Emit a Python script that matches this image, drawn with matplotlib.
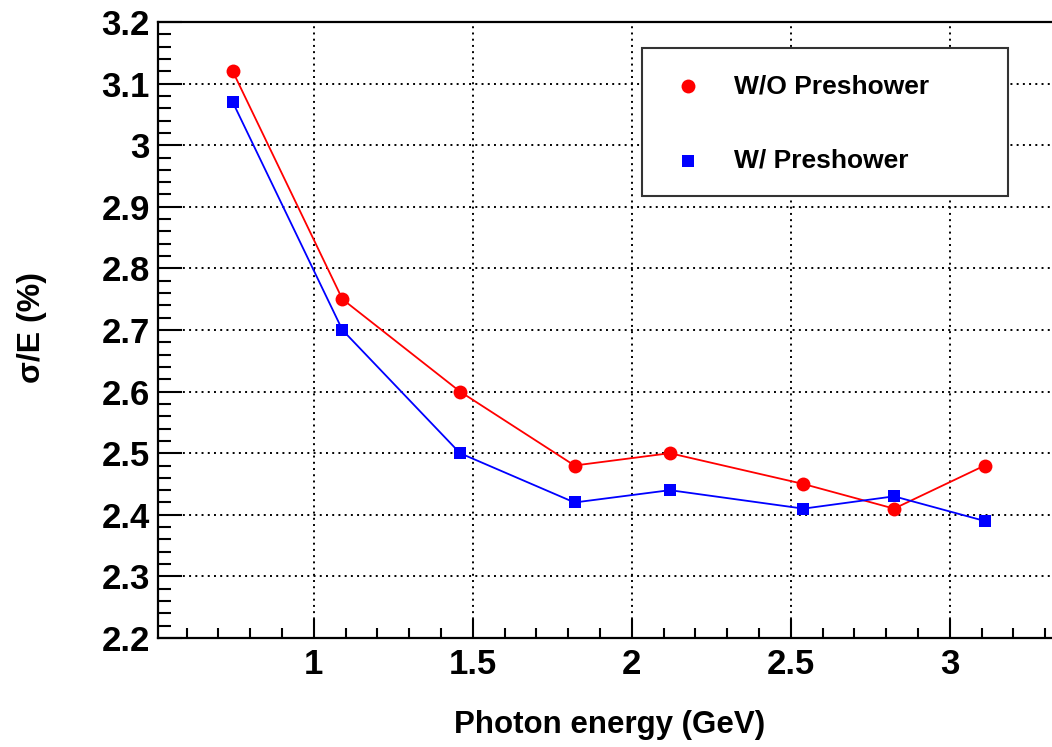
import matplotlib
matplotlib.use("Agg")
import matplotlib.pyplot as plt
from matplotlib.lines import Line2D
from matplotlib.patches import Rectangle
from matplotlib.ticker import MultipleLocator

plt.rcParams['font.family'] = ['Liberation Sans', 'DejaVu Sans']
plt.rcParams['font.weight'] = 'bold'

# photon energy (GeV)
energy = [0.745, 1.09, 1.46, 1.82, 2.12, 2.54, 2.825, 3.11]
# sigma/E (%)
res_no_ps = [3.12, 2.75, 2.60, 2.48, 2.50, 2.45, 2.41, 2.48]
res_ps = [3.07, 2.70, 2.50, 2.42, 2.44, 2.41, 2.43, 2.39]
labels = ["W/O Preshower", "W/ Preshower"]

W, H = 1052, 747
fig = plt.figure(figsize=(W / 100, H / 100), dpi=100)
ax = fig.add_axes([158 / W, 109 / H, 903 / W, 616 / H])

ax.plot(energy, res_no_ps, color='#ff0000', lw=1.3, marker='o', ms=10,
        markeredgewidth=0, zorder=3)
ax.plot(energy, res_ps, color='#0000ff', lw=1.3, marker='s', ms=9,
        markeredgewidth=0, zorder=3)

ax.set_xlim(0.51, 3.35)
ax.set_ylim(2.2, 3.2)
ax.xaxis.set_major_locator(MultipleLocator(0.5))
ax.xaxis.set_minor_locator(MultipleLocator(0.1))
ax.yaxis.set_major_locator(MultipleLocator(0.1))
ax.yaxis.set_minor_locator(MultipleLocator(0.02))
ax.xaxis.set_major_formatter(plt.FuncFormatter(lambda v, p: f"{v:g}"))
ax.yaxis.set_major_formatter(plt.FuncFormatter(lambda v, p: f"{v:g}"))

ax.grid(True, which='major', color='black', ls=(0, (1, 2.2)), lw=1.4)
ax.tick_params(which='both', direction='in', top=False, right=False, width=1.5)
ax.tick_params(axis='y', which='major', length=17, labelsize=25, pad=6)
ax.tick_params(axis='y', which='minor', length=9)
ax.tick_params(axis='x', which='major', length=14, labelsize=25, pad=7)
ax.tick_params(axis='x', which='minor', length=7)
for s in ax.spines.values():
    s.set_linewidth(1.6)
ax.spines['right'].set_visible(False)

ax.set_xlabel("Photon energy (GeV)", fontsize=22.5, fontweight='bold')
ax.set_ylabel("σ/E (%)", fontsize=23, fontweight='bold')
ax.xaxis.label.set_verticalalignment('center')
ax.yaxis.label.set_verticalalignment('center')
ax.xaxis.set_label_coords((610 - 158) / 903, (638 - 725) / 616)
ax.yaxis.set_label_coords((32 - 158) / 903, (638 - 328) / 616)

# legend box drawn in figure pixels
fig.patches.append(Rectangle((642 / W, 1 - 196 / H), 366 / W, 148 / H,
                             transform=fig.transFigure, facecolor='white',
                             edgecolor='#333333', lw=1.5, zorder=5))
fig.lines.append(Line2D([688 / W], [1 - 86 / H], transform=fig.transFigure,
                        marker='o', ms=10, color='#ff0000', mew=0, zorder=6))
fig.lines.append(Line2D([688 / W], [1 - 161 / H], transform=fig.transFigure,
                        marker='s', ms=9, color='#0000ff', mew=0, zorder=6))
fig.text(734 / W, 1 - 86 / H, labels[0], fontsize=19, fontweight='bold',
         va='center', ha='left', zorder=6)
fig.text(734 / W, 1 - 161 / H, labels[1], fontsize=19, fontweight='bold',
         va='center', ha='left', zorder=6)

fig.savefig("out.png", dpi=100)
